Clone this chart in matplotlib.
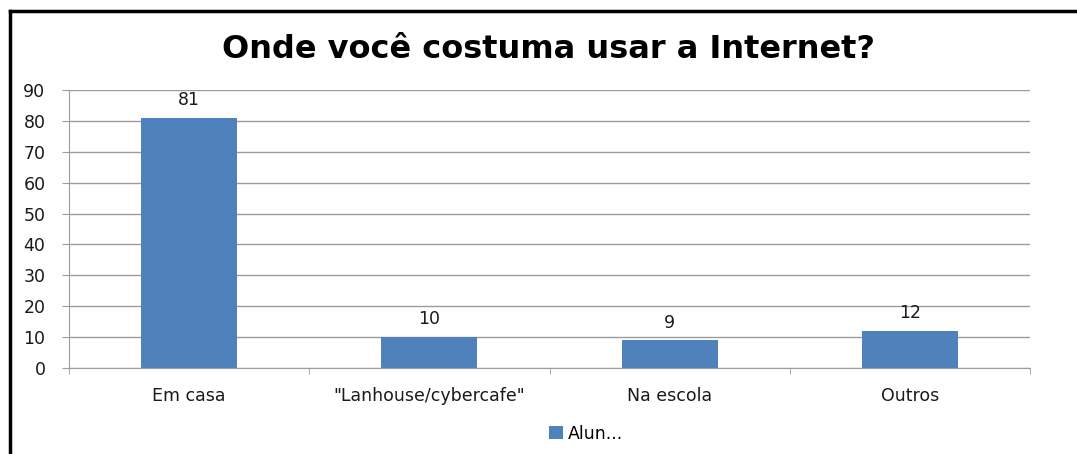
import matplotlib.pyplot as plt
import numpy as np
from matplotlib.lines import Line2D

plt.rcParams['font.family'] = ['DejaVu Sans']

categorias = ['Em casa', '"Lanhouse/cybercafe"', 'Na escola', 'Outros']
alunos = [81, 10, 9, 12]
serie = 'Alun...'
cor = '#4f81bd'
cinza = '#9c9c9c'

fig = plt.figure(figsize=(10.77, 4.54), dpi=100)
ax = fig.add_axes([0.0641, 0.1894, 0.8923, 0.6123])

x = np.arange(len(categorias))
barras = ax.bar(x, alunos, width=0.4, color=cor, label=serie, zorder=3)
for xi, v in zip(x, alunos):
    ax.text(xi, v + 2.8, str(v), ha='center', va='bottom', fontsize=12.5, color='#1a1a1a')

ax.set_xlim(-0.5, len(categorias) - 0.5)
ax.set_ylim(0, 90)
ax.set_yticks(np.arange(0, 91, 10))
ax.yaxis.grid(True, color=cinza, lw=1)
ax.set_axisbelow(True)
ax.tick_params(axis='y', length=5, color=cinza, labelsize=12.5, labelcolor='#1a1a1a', pad=12)

# rótulos centrados, ticks nas divisões
ax.set_xticks(x)
ax.set_xticklabels(categorias, fontsize=12.5, color='#1a1a1a')
ax.tick_params(axis='x', length=0, pad=14)
ax.set_xticks(np.arange(-0.5, len(categorias)), minor=True)
ax.tick_params(axis='x', which='minor', length=4, color=cinza)

for s in ['top', 'right']:
    ax.spines[s].set_visible(False)
for s in ['left', 'bottom']:
    ax.spines[s].set_color(cinza)

fig.text(0.509, 0.89, 'Onde você costuma usar a Internet?', ha='center', va='center',
         fontsize=23, fontweight='bold', color='#000000')

fig.legend(handles=[barras], labels=[serie], loc='center', bbox_to_anchor=(0.544, 0.045),
           frameon=False, fontsize=12.5, handlelength=0.8, handleheight=0.8, handletextpad=0.3)

# moldura do gráfico
fig.add_artist(Line2D([10 / 1077, 10 / 1077], [0, 1 - 11 / 454], color='black', lw=2.5,
                      transform=fig.transFigure))
fig.add_artist(Line2D([10 / 1077, 1], [1 - 11 / 454, 1 - 11 / 454], color='black', lw=2.5,
                      transform=fig.transFigure))

fig.savefig('out.png', dpi=100)
